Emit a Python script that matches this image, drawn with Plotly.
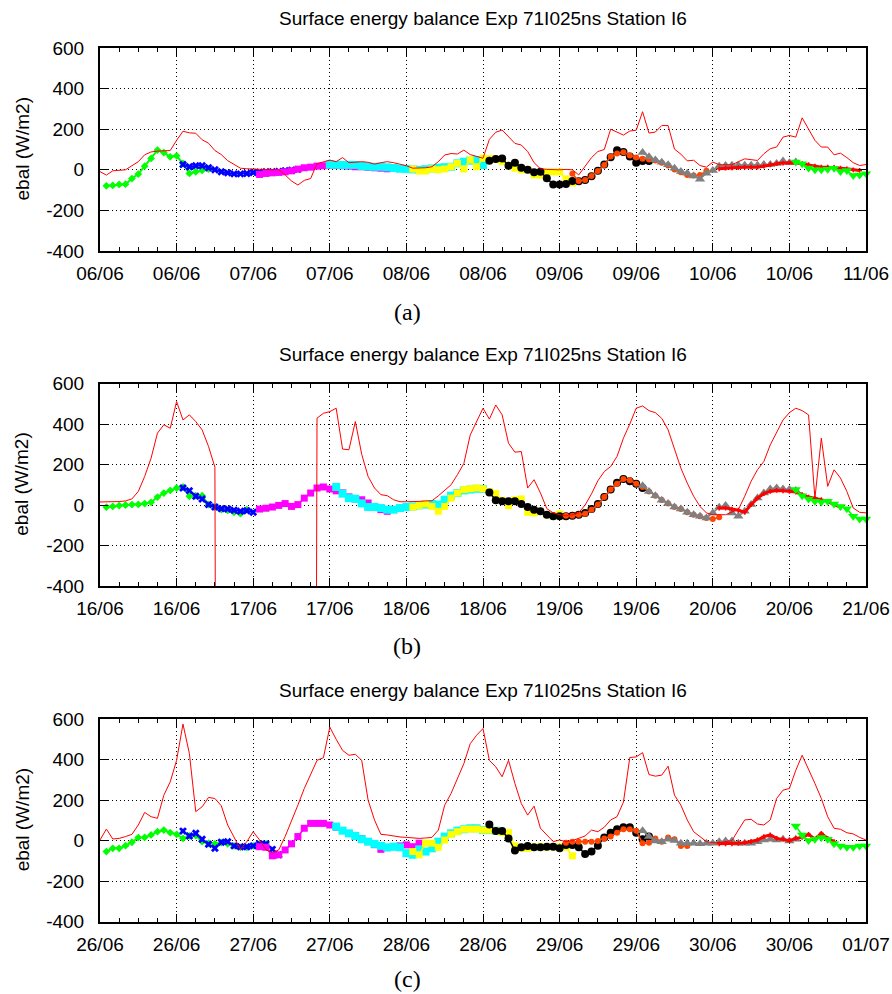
import numpy as np
import pandas as pd
import plotly.graph_objects as go

# ---------------------------------------------------------------- data
TITLE = "Surface energy balance Exp 71I025ns Station I6"
Y_LABEL = "ebal (W/m2)"
CAPTIONS = ["(a)", "(b)", "(c)"]
PANEL_START = ["2008-06-06", "2008-06-16", "2008-06-26"]
Y_TICKS = [-400, -200, 0, 200, 400, 600]
Y_TICKTEXT = ["-400", "-200", "0", "200", "400", "600"]

# observed (thin red line), hourly from panel start, hour 0..120 (-9999 = missing)
A_OBS = [-9, -26, -5, -3, 0, 20, 40, 74, 88, 92, 95, 95, 145, 190, 182, 180, 148, 131, 95, 75,
         45, 25, 8, 5, 3, 3, 2, 0, 0, -25, -55, -75, -52, -43, 30, 40, 48, 40, 60, 35,
         38, 40, 37, 28, 35, 40, 35, 28, 20, 8, 8, 10, 15, 40, 73, 80, 78, 97, 75, 65,
         57, 150, 185, 196, 165, 130, 122, 90, 35, 5, 2, 0, 0, 2, 0, -25, 15, 60, 90, 100,
         200, 185, 171, 191, 195, 286, 181, 186, 218, 218, 102, 77, 44, 47, 21, 13, 38, 25, 25, 25,
         40, 54, 50, 46, 79, 104, 112, 161, 169, 161, 256, 202, 145, 112, 112, 74, 82, 60, 35, 21,
         26]
B_OBS = [15, 15, 15, 17, 20, 30, 67, 141, 231, 355, 396, 379, 511, 420, 445, 412, 371, 289, 187,
         -9999, -9999, -9999, -9999, -9999, -9999, -9999, -9999, -9999, -9999, -9999, -9999,
         -9999, -9999, -9999,
         429, 453, 461, 478, 276, 273, 412, 250, 141, 84, 51, 46, 26, 16, 16, 16,
         18, 20, 21, 45, 75, 100, 150, 205, 346, 410, 478, 424, 494, 445, 305, 261, 264, 84, 125, 59,
         -18, -39, -48, -53, -48, -38, 0, 55, 120, 165, 190, 240, 330, 400, 478, 489, 466, 456, 428, 371,
         273, 182, 108, 43, -7, -39, -48, -48, -48, -35, -23, 43, 117, 174, 215, 297, 355, 420, 456, 478,
         466, 445, 34, 330, 92, 174, 133, 67, -15, -36, -39]
C_OBS = [3, 57, 8, 11, 20, 31, 77, 139, 118, 110, 224, 290, 396, 575, 430, 143, 167, 213, 208, 172,
         77, 20, -43, -5, 44, 3, -46, -59, -46, 20, 93, 175, 257, 331, 396, 409, 560, 500, 445, 421,
         426, 396, 200, 102, 31, 28, 22, 18, 16, 14, 11, 13, 16, 52, 175, 233, 306, 380, 478, 520,
         553, 396, 364, 315, 396, 282, 183, 126, 170, 61, 28, -5, 3, -5, 0, 11, 23, 52, 44, 66,
         102, 118, 190, 410, 413, 434, 326, 318, 323, 367, 224, 175, 102, 44, 20, -5, -10, -10, -5, 0,
         52, 102, 105, 82, 77, 102, 208, 249, 257, 347, 421, 355, 282, 208, 118, 61, 56, 39, 33, 16,
         3]

# model runs: first hour after panel start, then hourly values
A_GREEN_H0 = 1
A_GREEN = [-79, -77, -72, -71, -43, -21, 18, 56, 97, 85, 64, 69, 31, -18, -10, -3, 3]
A_BLUE_H0 = 13
A_BLUE = [26, 15, 20, 20, 10, 0, -10, -15, -20, -20, -18, -13, -12, -10, -10, -8, -5, -2, 2]
A_MAGENTA_H0 = 25
A_MAGENTA = [-23, -18, -15, -13, -10, -5, 3, 10, 13, 18, 20, 23, 22, 20, 18, 15, 15, 12, 10, 8, 5]
A_CYAN_H0 = 36
A_CYAN = [26, 25, 24, 24, 24, 19, 16, 15, 15, 12, 9, 5, 4, 2, 0, 3, 7, 10, 13, 15, 32, 40, 45, 48, 24]
A_YELLOW_H0 = 49
A_YELLOW = [4, -6, -6, 4, 0, 4, 15, 32, 4, 48, 15, 57, 55, 52, 40, 22, 8, 0, 0, -25, -26, -10, -10,
            -10, -45, -65]
A_BLACK_H0 = 61
A_BLACK = [45, 53, 56, 20, 35, 10, 0, -12, -10, -42, -72, -72, -70, -55, -57, -50, -32, -5, 26, 62,
           96, 88, 66, 35, 43, 43]
A_ORANGE_H0 = 74
A_ORANGE = [-20, -55, -50, -31, -6, 24, 65, 80, 86, 70, 60, 54, 51, 46, 35, 21, 1, -12, -25, -28, -25, -5]
A_GRAY_H0 = 85
A_GRAY = [85, 64, 48, 37, 25, 8, -8, -17, -30, -46, -17, -3, 17, 21, 23, 23, 23, 23, 23, 26, 26, 31,
          43, 35, 38]
A_RED_H0 = 97
A_RED = [5, 8, 9, 11, 13, 13, 13, 18, 25, 30, 33, 35, 35, 30, 25, 18, 13, 13, 12, 8, 5, 0, -3]
A_GREEN2_H0 = 109
A_GREEN2 = [38, 30, 9, 0, 0, 3, 8, -8, -3, -28, -25, -20]

B_GREEN_H0 = 1
B_GREEN = [-10, -7, -3, 0, 2, 3, 7, 13, 39, 59, 72, 84, 89, 43, 46, 46, 2, -10, -23, -26, -36, -43, -23]
B_BLUE_H0 = 13
B_BLUE = [84, 71, 43, 30, 2, -10, -18, -20, -26, -31, -28, -36]
B_MAGENTA_H0 = 25
B_MAGENTA = [-20, -16, -10, -2, 7, -7, 2, 34, 59, 84, 89, 79, 70, 60, 40, 30, 26, 10, -10, -23, -31]
B_CYAN_H0 = 37
B_CYAN = [89, 56, 34, 31, 8, -10, -10, -15, -23, -23, -15, -10, -7, -2, 2, 5, 2, 26, 46, 59, 72, 76,
          80, 79]
B_YELLOW_H0 = 49
B_YELLOW = [-10, -3, 5, -7, -31, -7, 34, 59, 76, 80, 84, 80, 67, 56, 23, -3, 26, 30, -36, -39, -31,
            -48, -53, -44]
B_BLACK_H0 = 61
B_BLACK = [62, 23, 18, 18, 18, 5, -10, -23, -31, -48, -56, -56, -55, -53, -48, -40, -20, 5, 40, 76,
           110, 128, 117, 105, 84]
B_ORANGE_H0 = 73
B_ORANGE = [-53, -53, -48, -43, -23, 2, 39, 76, 105, 128, 122, 105, 89, 67, 46, 25, 8, -10, -20, -36,
            -48, -56, -64, -69, -61]
B_GRAY_H0 = 85
B_GRAY = [95, 67, 46, 23, 7, -10, -20, -36, -48, -56, -64, -39, -11, -3, -39, -56, -31, 2, 34, 59, 79,
          84, 79, 76, 72]
B_RED_H0 = 97
B_RED = [-15, -15, -20, -26, -36, 2, 34, 56, 67, 72, 70, 67, 64, 51, 39, 34, 26, 18, 2, -10]
B_GREEN2_H0 = 109
B_GREEN2 = [76, 46, 30, 18, 15, 18, 5, -7, -18, -56, -69, -69]

C_GREEN_H0 = 1
C_GREEN = [-54, -38, -38, -25, -8, 15, 16, 28, 44, 52, 39, 31, 11, 23, 25, -5, -13, -16, -10, -16,
           -26, -33, -33, -26, -18, -16]
C_BLUE_H0 = 13
C_BLUE = [47, 23, 36, 7, -18, -38, -8, -5, -26, -30, -30, -26, -16, -16, -43, -70]
C_MAGENTA_H0 = 25
C_MAGENTA = [-30, -33, -75, -70, -46, -16, 20, 61, 85, 85, 85, 77, 66, 50, 35, 20, 10, -5, -20, -43,
             -35, -30, -26, -21, -30, -13]
C_CYAN_H0 = 37
C_CYAN = [69, 49, 36, 23, 7, -5, -16, -26, -33, -30, -33, -62, -70, -43, -54, -38, -5, 20, 36, 49,
          56, 61, 61, 52, 52, 49]
C_YELLOW_H0 = 49
C_YELLOW = [-54, -70, -13, -13, -33, 3, 31, 44, 56, 57, 57, 52, 52, 49, 39, 39, -26, -38, -38, -33,
            -30, -33, -30, -30, -33, -75]
C_BLACK_H0 = 61
C_BLACK = [80, 47, 47, 11, -49, -33, -26, -33, -33, -30, -30, -38, -21, -21, -33, -66, -54, -25, 16,
           39, 56, 66, 66, 39, 7, 20]
C_ORANGE_H0 = 73
C_ORANGE = [-10, -5, -5, -5, -5, -2, 11, 20, 39, 56, 56, 49, -13, -10, 11, -5, 16, 7, -26, -26]
C_GRAY_H0 = 85
C_GRAY = [49, 20, -2, -5, 7, 0, -13, -13, -13, -16, -13, -13, -5, -2, -2, -13, -13, -13, -5, 3, 7, 3,
          7, -2, 7]
C_RED_H0 = 97
C_RED = [-16, -16, -16, -13, -10, -5, 3, 20, 28, 11, 7, 0, 11, 16, 31, 7, 36, 11, -5]
C_GREEN2_H0 = 109
C_GREEN2 = [72, 28, 0, 7, 16, 7, -16, -26, -33, -33, -26, -26]

PANEL_OBS = [A_OBS, B_OBS, C_OBS]
PANEL_RUNS = [
    [(A_GREEN_H0, A_GREEN), (A_BLUE_H0, A_BLUE), (A_MAGENTA_H0, A_MAGENTA), (A_CYAN_H0, A_CYAN),
     (A_YELLOW_H0, A_YELLOW), (A_BLACK_H0, A_BLACK), (A_ORANGE_H0, A_ORANGE), (A_GRAY_H0, A_GRAY),
     (A_RED_H0, A_RED), (A_GREEN2_H0, A_GREEN2)],
    [(B_GREEN_H0, B_GREEN), (B_BLUE_H0, B_BLUE), (B_MAGENTA_H0, B_MAGENTA), (B_CYAN_H0, B_CYAN),
     (B_YELLOW_H0, B_YELLOW), (B_BLACK_H0, B_BLACK), (B_ORANGE_H0, B_ORANGE), (B_GRAY_H0, B_GRAY),
     (B_RED_H0, B_RED), (B_GREEN2_H0, B_GREEN2)],
    [(C_GREEN_H0, C_GREEN), (C_BLUE_H0, C_BLUE), (C_MAGENTA_H0, C_MAGENTA), (C_CYAN_H0, C_CYAN),
     (C_YELLOW_H0, C_YELLOW), (C_BLACK_H0, C_BLACK), (C_ORANGE_H0, C_ORANGE), (C_GRAY_H0, C_GRAY),
     (C_RED_H0, C_RED), (C_GREEN2_H0, C_GREEN2)],
]

# ---------------------------------------------------------------- styles
RUN_STYLES = [
    dict(color="#00ff00", symbol="diamond", size=6, lw=2),
    dict(color="#0000ff", symbol="x", size=7, lw=1.5),
    dict(color="#ff00ff", symbol="square", size=7, lw=1.5),
    dict(color="#00ffff", symbol="square", size=8, lw=1.5),
    dict(color="#ffff00", symbol="square", size=7, lw=1.5),
    dict(color="#000000", symbol="circle", size=8, lw=1.5),
    dict(color="#ff4500", symbol="circle", size=6, lw=1.5),
    dict(color="#808080", symbol="triangle-up", size=9, lw=1.5),
    dict(color="#ff0000", symbol="cross", size=4, lw=3),
    dict(color="#00ff00", symbol="triangle-down", size=9, lw=1.5),
]

W, H = 892, 994
X_L, X_R = 100, 866
PLOT_TOP = [48, 383.5, 719]
PLOT_BOT = [251, 586, 921.7]
TITLE_Y = [19, 354.5, 690]
CAPTION_Y = [312, 646, 979]
FONT = "Liberation Sans, Arial, sans-serif"

fig = go.Figure()

for p in range(3):
    start = pd.Timestamp(PANEL_START[p])
    sfx = "" if p == 0 else str(p + 1)
    xa, ya = "x" + sfx, "y" + sfx
    for (h0, vals), st in zip(PANEL_RUNS[p], RUN_STYLES):
        t = start + pd.to_timedelta(np.arange(len(vals)) + h0, unit="h")
        fig.add_trace(go.Scatter(
            x=t, y=vals, xaxis=xa, yaxis=ya, mode="lines+markers", showlegend=False,
            cliponaxis=False,
            line=dict(color=st["color"], width=st["lw"]),
            marker=dict(color=st["color"], symbol=st["symbol"], size=st["size"], line=dict(width=0)),
        ))
    obs = PANEL_OBS[p]
    t = start + pd.to_timedelta(np.arange(len(obs)), unit="h")
    fig.add_trace(go.Scatter(x=t, y=obs, xaxis=xa, yaxis=ya, mode="lines", showlegend=False,
                             line=dict(color="#ff0000", width=1)))

    end = start + pd.Timedelta(hours=120)
    dom_y = [1 - PLOT_BOT[p] / H, 1 - PLOT_TOP[p] / H]
    fig.layout["xaxis" + sfx] = dict(
        type="date", range=[start, end], domain=[X_L / W, X_R / W], anchor=ya,
        automargin=False,
        tickformat="%d/%m", tick0=start, dtick=12 * 3600 * 1000,
        ticks="inside", ticklen=8, tickwidth=1, tickcolor="black",
        minor=dict(dtick=3 * 3600 * 1000, tick0=start, ticks="inside", ticklen=4,
                   tickcolor="black", tickwidth=1, showgrid=False),
        showgrid=True, gridcolor="black", gridwidth=1, griddash="1px,3px",
        showline=True, linecolor="black", linewidth=2, mirror="ticks",
        zeroline=False, ticklabelstandoff=4,
        tickfont=dict(family=FONT, size=19, color="black"),
    )
    fig.layout["yaxis" + sfx] = dict(
        range=[-400, 600], domain=dom_y, anchor=xa, automargin=False,
        tickmode="array", tickvals=Y_TICKS, ticktext=Y_TICKTEXT,
        ticks="inside", ticklen=8, tickwidth=1, tickcolor="black",
        showgrid=True, gridcolor="black", gridwidth=1, griddash="1px,3px",
        showline=True, linecolor="black", linewidth=2, mirror="ticks",
        zeroline=False, ticklabelstandoff=10,
        tickfont=dict(family=FONT, size=19, color="black"),
    )
    fig.add_annotation(text=TITLE, xref="paper", yref="paper", x=(X_L + X_R) / 2 / W,
                       y=1 - TITLE_Y[p] / H, showarrow=False, xanchor="center", yanchor="middle",
                       font=dict(family=FONT, size=19, color="black"))
    fig.add_annotation(text=Y_LABEL, xref="paper", yref="paper", x=22 / W,
                       y=1 - (PLOT_TOP[p] + PLOT_BOT[p]) / 2 / H, showarrow=False, textangle=-90,
                       xanchor="center", yanchor="middle",
                       font=dict(family=FONT, size=19, color="black"))
    fig.add_annotation(text=CAPTIONS[p], xref="paper", yref="paper", x=407 / W,
                       y=1 - CAPTION_Y[p] / H, showarrow=False, xanchor="center", yanchor="middle",
                       font=dict(family="Liberation Serif, DejaVu Serif, serif", size=24, color="black"))

fig.update_layout(width=W, height=H, autosize=False, margin=dict(l=0, r=0, t=0, b=0, pad=0),
                  paper_bgcolor="white", plot_bgcolor="white", showlegend=False)

fig.write_html("out.html", config={"displayModeBar": False},
               post_script="document.body.style.margin='0';document.body.style.overflow='hidden';")
